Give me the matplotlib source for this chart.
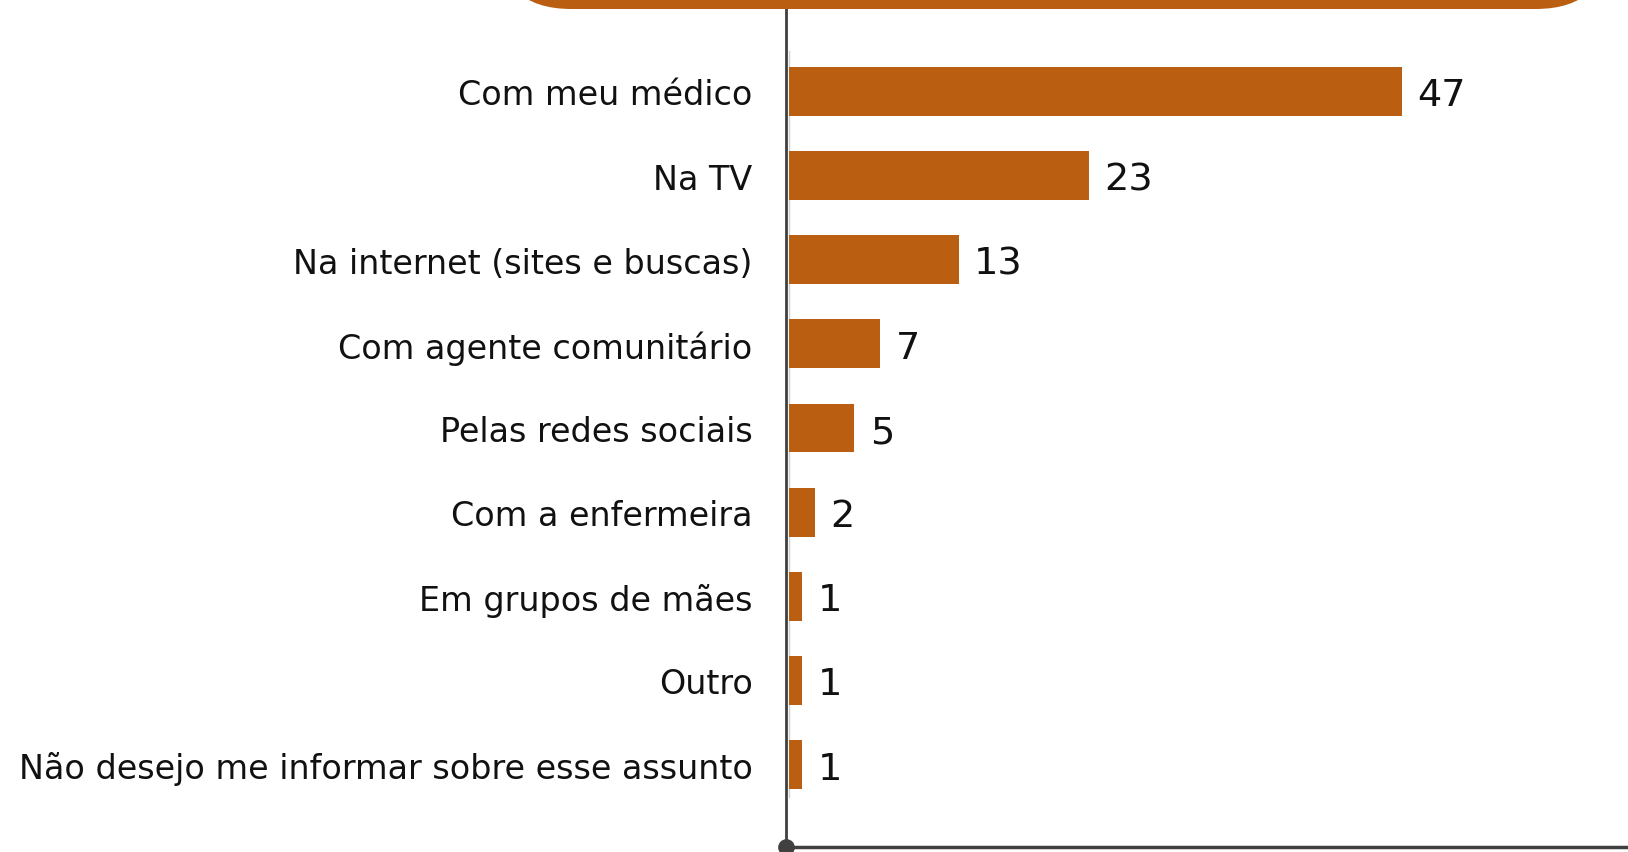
import numpy as np
import matplotlib.pyplot as plt
from matplotlib.patches import FancyBboxPatch

categories = [
    "Com meu médico",
    "Na TV",
    "Na internet (sites e buscas)",
    "Com agente comunitário",
    "Pelas redes sociais",
    "Com a enfermeira",
    "Em grupos de mães",
    "Outro",
    "Não desejo me informar sobre esse assunto",
]
values = [47, 23, 13, 7, 5, 2, 1, 1, 1]

bar_color = "#BA5E12"
axis_color = "#404040"
font = ["DejaVu Sans"]

W, H = 1628, 853
fig = plt.figure(figsize=(W / 100, H / 100), dpi=100)

# axes placed in pixel units: left spine at x=786, top under the banner, bottom line at y=848
left_px, top_px, bottom_px = 786, 10, 848
ax = fig.add_axes([left_px / W, (H - bottom_px) / H, (W - left_px) / W, (bottom_px - top_px) / H])

px_per_unit = 13.04
offset = 3 / px_per_unit
ax.set_xlim(-offset, (W - left_px) / px_per_unit - offset)
ax.set_ylim(8.98, -0.98)

y = np.arange(len(categories))
ax.barh(y, values, height=0.58, color=bar_color, left=0)

for yi, v in zip(y, values):
    ax.text(v + 1.2, yi, str(v), va="center_baseline", ha="left", fontsize=27.5,
            color="#111111", family=font)

ax.set_yticks(y)
ax.set_yticklabels(categories, fontsize=24, color="#111111", family=font)
ax.tick_params(axis="y", length=0, pad=24)
ax.set_xticks([])

for side in ["top", "right"]:
    ax.spines[side].set_visible(False)
ax.spines["left"].set_color(axis_color)
ax.spines["left"].set_linewidth(2)
ax.spines["bottom"].set_color(axis_color)
ax.spines["bottom"].set_linewidth(2.5)

# faint baseline at zero
ax.axvline(0, ymin=0.06, ymax=0.95, color="#d0d0d0", lw=1, zorder=0)

# dot where the axes meet
ax.plot([-offset], [8.98], "o", color=axis_color, markersize=11, clip_on=False, zorder=5)

# rounded header band along the top edge
banner = FancyBboxPatch((498 / W, (H - top_px) / H), (1609 - 498) / W, 0.2,
                        boxstyle="round,pad=0,rounding_size=0.045",
                        transform=fig.transFigure, facecolor=bar_color,
                        edgecolor="none", mutation_aspect=W / H)
fig.patches.append(banner)

fig.savefig("out.png", dpi=100)
